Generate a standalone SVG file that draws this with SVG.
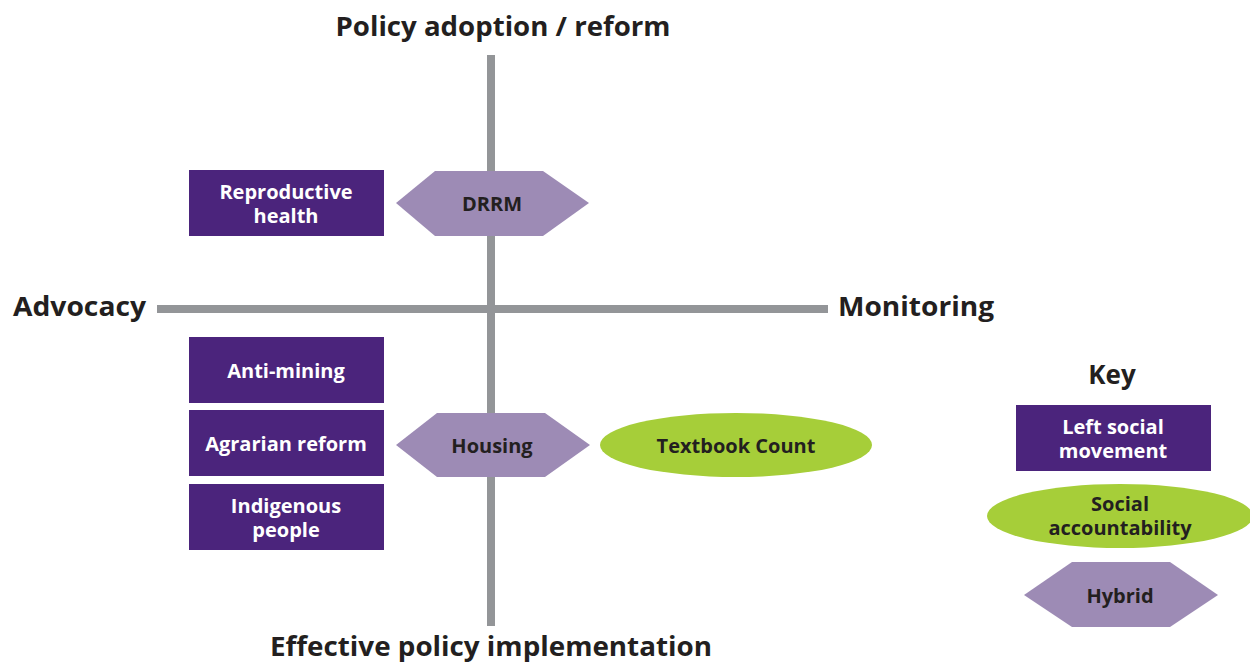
<svg xmlns="http://www.w3.org/2000/svg" width="1250" height="663" viewBox="0 0 1250 663">
<style>
.ax{stroke:#939598;stroke-width:8;fill:none}
.lsm{fill:#4B247C}
.hyb{fill:#9D8BB5}
.sa{fill:#A6CE39}
.t{font-family:"Open Sans","Liberation Sans",sans-serif;font-weight:bold;font-size:20px;text-anchor:middle}
.w{fill:#ffffff}
.d{fill:#231F20}
.h{font-family:"Open Sans","Liberation Sans",sans-serif;font-weight:bold;font-size:26px;fill:#231F20}
</style>
<rect width="1250" height="663" fill="#ffffff"/>
<g id="axes">
<line class="ax" x1="491" y1="55" x2="491" y2="626"/>
<line class="ax" x1="157" y1="309" x2="828" y2="309"/>
</g>
<g id="axis-labels">
<text class="h" x="503" y="36" text-anchor="middle" textLength="335" lengthAdjust="spacingAndGlyphs">Policy adoption / reform</text>
<text class="h" x="13" y="316" textLength="133" lengthAdjust="spacingAndGlyphs">Advocacy</text>
<text class="h" x="838" y="316" textLength="156" lengthAdjust="spacingAndGlyphs">Monitoring</text>
<text class="h" x="491" y="656" text-anchor="middle" textLength="442" lengthAdjust="spacingAndGlyphs">Effective policy implementation</text>
</g>
<g id="reproductive-health">
<rect class="lsm" x="189" y="170" width="195" height="66"/>
<text class="t w" x="286" y="199">Reproductive<tspan x="286" dy="24">health</tspan></text>
</g>
<g id="drrm">
<polygon class="hyb" points="396,203 435,171 543,171 589,203 543,236 435,236"/>
<text class="t d" x="492" y="211">DRRM</text>
</g>
<g id="anti-mining">
<rect class="lsm" x="189" y="337" width="195" height="66"/>
<text class="t w" x="286" y="378">Anti-mining</text>
</g>
<g id="agrarian-reform">
<rect class="lsm" x="189" y="410" width="195" height="66"/>
<text class="t w" x="286" y="451">Agrarian reform</text>
</g>
<g id="indigenous-people">
<rect class="lsm" x="189" y="484" width="195" height="66"/>
<text class="t w" x="286" y="513">Indigenous<tspan x="286" dy="24">people</tspan></text>
</g>
<g id="housing">
<polygon class="hyb" points="396,445 437,413 545,413 590,445 545,477 437,477"/>
<text class="t d" x="492" y="453">Housing</text>
</g>
<g id="textbook-count">
<ellipse class="sa" cx="736" cy="445" rx="136" ry="32"/>
<text class="t d" x="736" y="453">Textbook Count</text>
</g>
<g id="key">
<text class="h" x="1112" y="384" text-anchor="middle" font-size="25">Key</text>
</g>
<g id="key-left-social-movement">
<rect class="lsm" x="1016" y="405" width="195" height="66"/>
<text class="t w" x="1113" y="434">Left social<tspan x="1113" dy="24">movement</tspan></text>
</g>
<g id="key-social-accountability">
<ellipse class="sa" cx="1120" cy="516" rx="133" ry="32"/>
<text class="t d" x="1120" y="511">Social<tspan x="1120" dy="24">accountability</tspan></text>
</g>
<g id="key-hybrid">
<polygon class="hyb" points="1024,595 1072,562 1170,562 1218,595 1170,627 1072,627"/>
<text class="t d" x="1120" y="603">Hybrid</text>
</g>
</svg>
